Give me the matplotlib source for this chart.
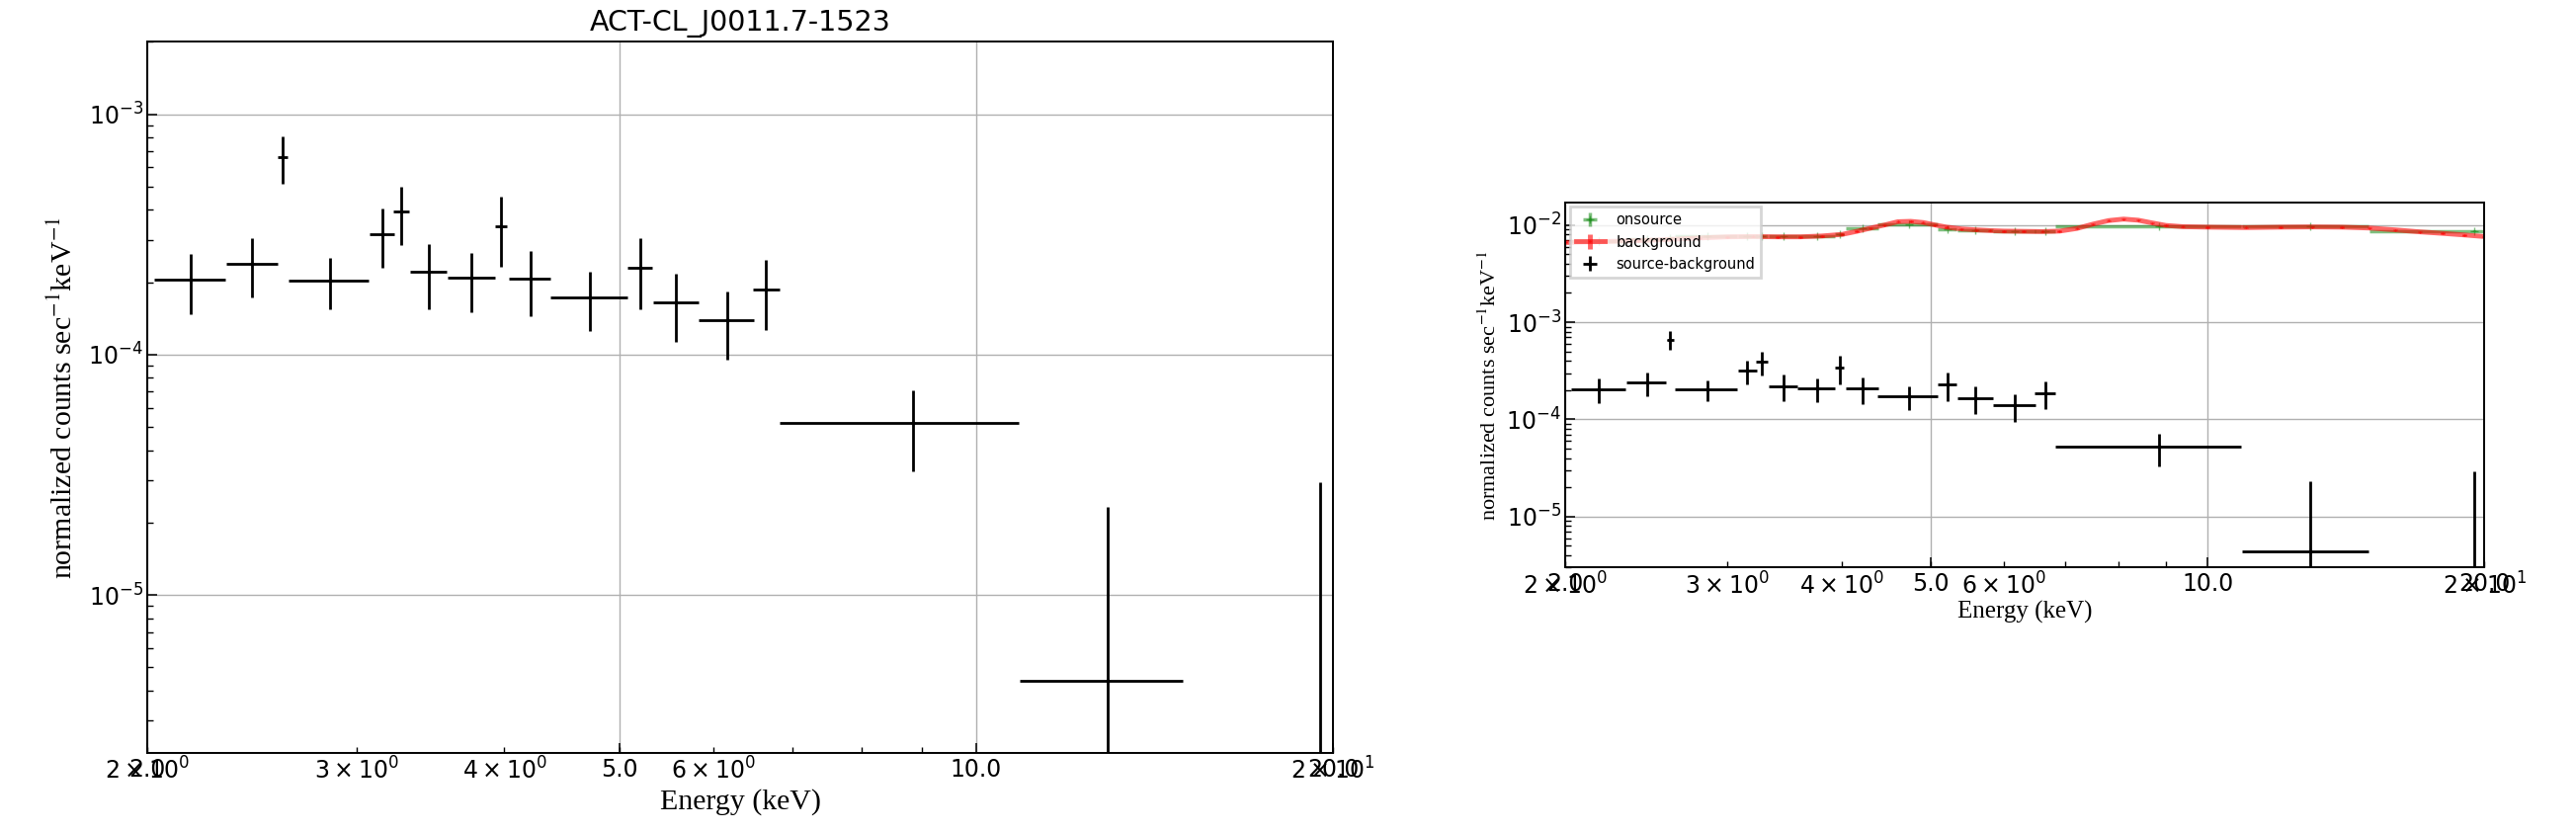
import matplotlib
matplotlib.use("Agg")
import matplotlib.pyplot as plt
from matplotlib.ticker import LogFormatterSciNotation

# source - background spectrum (keV, counts/s/keV)
src_e = [2.176, 2.452, 2.601, 2.853, 3.154, 3.275, 3.451, 3.753, 3.974, 4.206, 4.726, 5.207, 5.586, 6.163, 6.652, 8.849, 12.921, 19.5]
src_xerr = [0.149, 0.122, 0.025, 0.222, 0.073, 0.049, 0.122, 0.174, 0.048, 0.171, 0.351, 0.123, 0.247, 0.329, 0.170, 2.02, 2.03, 4.5]
src_v = [2.05e-4, 2.39e-4, 6.63e-4, 2.03e-4, 3.17e-4, 3.92e-4, 2.21e-4, 2.08e-4, 3.42e-4, 2.07e-4, 1.73e-4, 2.30e-4, 1.65e-4, 1.39e-4, 1.87e-4, 5.19e-5, 4.37e-6, -1.0e-5]
src_yerr = [0.58e-4, 0.67e-4, 1.48e-4, 0.49e-4, 0.87e-4, 1.07e-4, 0.665e-4, 0.574e-4, 1.10e-4, 0.622e-4, 0.474e-4, 0.755e-4, 0.516e-4, 0.442e-4, 0.60e-4, 1.91e-5, 1.89e-5, 3.94e-5]

# onsource spectrum, same bins
on_v = [6.9e-3, 7.1e-3, 7.4e-3, 7.6e-3, 7.7e-3, 7.7e-3, 7.6e-3, 7.7e-3, 8.0e-3, 9.2e-3, 1.02e-2, 9.0e-3, 8.8e-3, 8.6e-3, 8.6e-3, 9.8e-3, 9.6e-3, 8.7e-3]
on_yerr = [0.4e-4, 0.47e-4, 1.0e-4, 0.35e-4, 0.6e-4, 0.75e-4, 0.47e-4, 0.4e-4, 0.77e-4, 0.44e-4, 0.33e-4, 0.53e-4, 0.36e-4, 0.31e-4, 0.42e-4, 0.13e-4, 0.13e-4, 0.28e-4]

# background spectrum
bg_e = [2.0, 2.2, 2.4, 2.6, 2.8, 3.0, 3.2, 3.4, 3.6, 3.8, 4.0, 4.15, 4.3, 4.45, 4.6, 4.75, 4.9, 5.05, 5.2, 5.4,
        5.6, 5.8, 6.0, 6.3, 6.6, 6.9, 7.2, 7.5, 7.8, 8.1, 8.4, 8.7, 9.0, 9.4, 10.0, 11.0, 12.0, 13.0, 14.0, 15.0,
        16.0, 17.0, 18.0, 19.0, 20.0]
bg_v = [6.6e-3, 6.75e-3, 6.9e-3, 7.1e-3, 7.35e-3, 7.55e-3, 7.6e-3, 7.55e-3, 7.55e-3, 7.7e-3, 8.0e-3, 8.6e-3, 9.3e-3, 1.0e-2, 1.08e-2, 1.09e-2, 1.06e-2, 1.0e-2, 9.5e-3, 9.1e-3,
        8.9e-3, 8.75e-3, 8.65e-3, 8.6e-3, 8.55e-3, 8.65e-3, 9.2e-3, 1.02e-2, 1.11e-2, 1.15e-2, 1.12e-2, 1.05e-2, 9.9e-3, 9.6e-3, 9.5e-3, 9.4e-3, 9.5e-3, 9.55e-3, 9.5e-3, 9.3e-3,
        8.9e-3, 8.5e-3, 8.2e-3, 7.9e-3, 7.6e-3]
bg_yerr = [1.5e-4] * len(bg_e)

xtick_vals = [2.0, 5.0, 10.0, 20.0]
xtick_labels = ["2.0", "5.0", "10.0", "20.0"]
title = "ACT-CL_J0011.7-1523"
ylab = r"normalized counts sec$^{-1}$keV$^{-1}$"
serif = ["Liberation Serif", "DejaVu Serif"]


def style_axes(ax, ylim, tick_fs):
    ax.set_xscale("log")
    ax.set_yscale("log")
    ax.set_xlim(2.0, 20.0)
    ax.set_ylim(*ylim)
    ax.xaxis.remove_overlapping_locs = False
    ax.set_xticks(xtick_vals, xtick_labels)
    ax.xaxis.set_minor_formatter(LogFormatterSciNotation(labelOnlyBase=False, minor_thresholds=(2, 0.4)))
    ax.tick_params(which="both", direction="in", labelsize=tick_fs)
    ax.tick_params(which="major", length=7, width=1.1)
    ax.tick_params(which="minor", length=4.5, width=1.0)
    ax.tick_params(axis="y", pad=3)
    ax.grid(True, which="major", color="#b0b0b0", lw=1.0)
    ax.set_axisbelow(True)
    for s in ax.spines.values():
        s.set_linewidth(1.4)


fig = plt.figure(figsize=(26.07, 8.42), dpi=100)

ax1 = fig.add_axes([0.05727, 0.09501, 0.46018, 0.85475])
style_axes(ax1, (2.2e-6, 2.0e-3), 17)
ax1.errorbar(src_e, src_v, xerr=src_xerr, yerr=src_yerr, fmt="+", color="black", ms=4, lw=2)
ax1.set_title(title, fontsize=20.5, pad=8)
ax1.set_xlabel("Energy (keV)", family=serif, fontsize=21.5)
ax1.set_ylabel(ylab, family=serif, math_fontfamily="stix", fontsize=21.5)
ax1.xaxis.set_label_coords(0.5, -0.05)
ax1.yaxis.set_label_coords(-0.059, 0.5)

ax2 = fig.add_axes([0.60771, 0.31793, 0.35673, 0.43860])
style_axes(ax2, (3.0e-6, 1.7e-2), 17)
ax2.errorbar(src_e, on_v, xerr=src_xerr, yerr=on_yerr, fmt="+", color="green", alpha=0.5, lw=2.5, label="onsource")
ax2.errorbar(bg_e, bg_v, yerr=bg_yerr, fmt="+-", color="red", alpha=0.6, lw=3.5, ms=2, label="background")
ax2.errorbar(src_e, src_v, xerr=src_xerr, yerr=src_yerr, fmt="+", color="black", ms=4, lw=2, label="source-background")
ax2.set_xlabel("Energy (keV)", family=serif, fontsize=18)
ax2.set_ylabel(ylab, family=serif, math_fontfamily="stix", fontsize=16)
ax2.xaxis.set_label_coords(0.5, -0.09)
ax2.yaxis.set_label_coords(-0.07, 0.5)
leg = ax2.legend(loc="upper left", fontsize=10.5, fancybox=False, framealpha=0.8,
                 edgecolor="#cccccc", borderaxespad=0.3)
leg.get_frame().set_linewidth(2)

fig.savefig("out.png", dpi=100)
